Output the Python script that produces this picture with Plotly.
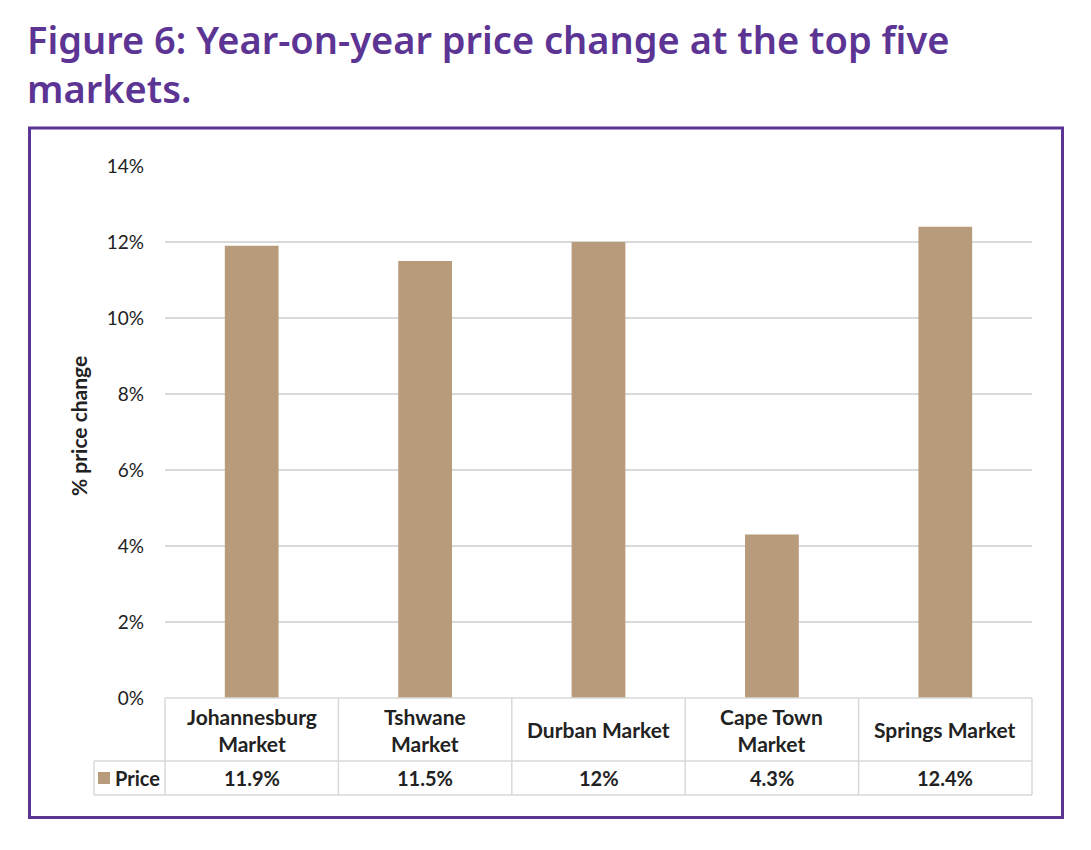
import plotly.graph_objects as go

markets = ["Johannesburg Market", "Tshwane Market", "Durban Market", "Cape Town Market", "Springs Market"]
header_labels = ["Johannesburg<br>Market", "Tshwane<br>Market", "Durban Market", "Cape Town<br>Market", "Springs Market"]
price_change = [11.9, 11.5, 12.0, 4.3, 12.4]
series_name = "Price"
y_ticks = [0, 2, 4, 6, 8, 10, 12, 14]
title_lines = ["Figure 6: Year-on-year price change at the top five", "markets."]

# page body has an 8px margin; figure coordinates are reference pixels minus 8
OFF = 8
W, H = 1091 - 2 * OFF, 850 - 2 * OFF
L, R, T, B = 165 - OFF, 1032 - OFF, 166 - OFF, 698 - OFF
PW, PH = R - L, B - T

def px(x):
    return (x - OFF - L) / PW

def py(y):
    return (B - (y - OFF)) / PH

BAR = "#B89B7A"
PURPLE = "#5C3494"
GRID = "#D9D9D9"
TXT = "#222222"
FONT = "Lato"

fig = go.Figure()
fig.add_trace(go.Bar(
    x=markets, y=price_change, name=series_name,
    marker=dict(color=BAR, line=dict(width=0)),
    hoverinfo="x+y",
))

shapes = []
hdr_bot = py(761)
tbl_bot = py(795)
leg_left = px(94)
line = dict(color=GRID, width=1.5)
shapes.append(dict(type="line", xref="paper", yref="paper", x0=0, x1=1, y0=0, y1=0, line=line))
shapes.append(dict(type="line", xref="paper", yref="paper", x0=leg_left, x1=1, y0=hdr_bot, y1=hdr_bot, line=line))
shapes.append(dict(type="line", xref="paper", yref="paper", x0=leg_left, x1=1, y0=tbl_bot, y1=tbl_bot, line=line))
shapes.append(dict(type="line", xref="paper", yref="paper", x0=leg_left, x1=leg_left, y0=hdr_bot, y1=tbl_bot, line=line))
shapes.append(dict(type="line", xref="paper", yref="paper", x0=0, x1=0, y0=0, y1=tbl_bot, line=line))
shapes.append(dict(type="line", xref="paper", yref="paper", x0=1, x1=1, y0=0, y1=tbl_bot, line=line))
for i in range(len(markets) - 1):
    shapes.append(dict(type="line", xref="x", yref="paper", x0=i + 0.5, x1=i + 0.5, y0=0, y1=tbl_bot, line=line))
shapes.append(dict(type="rect", xref="paper", yref="paper", x0=px(98), x1=px(110), y0=py(772), y1=py(784),
                   fillcolor=BAR, line=dict(width=0)))
shapes.append(dict(type="rect", xref="paper", yref="paper", x0=px(29.5), x1=px(1062.5), y0=py(128), y1=py(817.5),
                   line=dict(color=PURPLE, width=3), fillcolor="rgba(0,0,0,0)", layer="below"))

annotations = []
for m, lab, v in zip(markets, header_labels, price_change):
    annotations.append(dict(xref="x", yref="paper", x=m, y=(0 + hdr_bot) / 2, text=f"<b>{lab}</b>",
                            showarrow=False, xanchor="center", yanchor="middle",
                            font=dict(family=FONT, size=21, color=TXT)))
    annotations.append(dict(xref="x", yref="paper", x=m, y=(hdr_bot + tbl_bot) / 2, text=f"<b>{v:g}%</b>",
                            showarrow=False, xanchor="center", yanchor="middle",
                            font=dict(family=FONT, size=20, color=TXT)))
annotations.append(dict(xref="paper", yref="paper", x=px(113), y=(hdr_bot + tbl_bot) / 2, text=f"<b>{series_name}</b>",
                        showarrow=False, xanchor="left", yanchor="middle",
                        font=dict(family=FONT, size=20, color=TXT)))
annotations.append(dict(xref="paper", yref="paper", x=px(78), y=py(426), text="<b>% price change</b>",
                        textangle=-90, showarrow=False, xanchor="center", yanchor="middle",
                        font=dict(family=FONT, size=21, color=TXT)))
annotations.append(dict(xref="paper", yref="paper", x=px(25), y=py(11), xanchor="left", yanchor="top",
                        align="left", text="<br>".join(title_lines), showarrow=False,
                        font=dict(family="Noto Sans", size=38, color=PURPLE, weight=600)))

fig.update_layout(
    width=W, height=H,
    margin=dict(l=L, r=W - R, t=T, b=H - B, pad=0),
    paper_bgcolor="white", plot_bgcolor="white",
    showlegend=False,
    bargap=0.69,
    xaxis=dict(range=[-0.5, len(markets) - 0.5], showticklabels=False, showgrid=False,
               zeroline=False, showline=False, ticks=""),
    yaxis=dict(range=[0, 14], tickvals=y_ticks, ticktext=[f"{t}%" for t in y_ticks],
               showgrid=True, gridcolor=GRID, gridwidth=1.5, zeroline=False, showline=False,
               ticks="", ticklabelstandoff=20,
               tickfont=dict(family=FONT, size=19, color=TXT)),
    shapes=shapes, annotations=annotations,
)

fig.write_html("out.html")
